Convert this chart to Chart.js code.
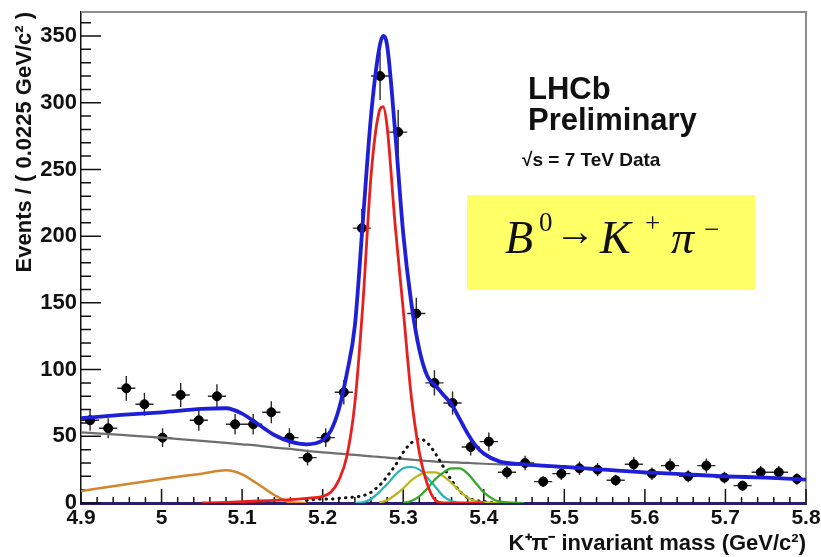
<!DOCTYPE html>
<html lang="en">
<head>
    <meta charset="UTF-8">
    <title>B0 to K+ pi- invariant mass - LHCb Preliminary</title>
    <script src="https://cdn.jsdelivr.net/npm/chart.js"></script>
    <style>
        html, body { margin: 0; padding: 0; background: #fff; }
        .chart-wrap { width: 821px; height: 557px; position: relative; }
    </style>
</head>
<body>
    <div class="chart-wrap">
        <canvas id="massChart"></canvas>
    </div>

    <script>
        // Data points: bin centres (GeV/c^2) and events per 0.0225 GeV/c^2 bin
        const binWidth = 0.0225;
        const binCenters = [
            4.91125, 4.93375, 4.95625, 4.97875, 5.00125, 5.02375, 5.04625, 5.06875, 5.09125, 5.11375,
            5.13625, 5.15875, 5.18125, 5.20375, 5.22625, 5.24875, 5.27125, 5.29375, 5.31625, 5.33875,
            5.36125, 5.38375, 5.40625, 5.42875, 5.45125, 5.47375, 5.49625, 5.51875, 5.54125, 5.56375,
            5.58625, 5.60875, 5.63125, 5.65375, 5.67625, 5.69875, 5.72125, 5.74375, 5.76625, 5.78875
        ];
        const binCounts = [
            62, 56, 86, 74, 49, 81, 62, 80, 59, 59,
            68, 49, 34, 49, 83, 206, 320, 278, 142, 90,
            75, 42, 46, 23, 30, 16, 22, 26, 25, 17,
            29, 22, 28, 20, 28, 19, 13, 23, 23, 18
        ];

        const curveMass = [
            4.90, 4.95, 5.00, 5.05, 5.08, 5.10, 5.12, 5.14, 5.16, 5.18,
            5.20, 5.21, 5.22, 5.23, 5.24, 5.25, 5.26, 5.27, 5.275, 5.28,
            5.29, 5.30, 5.31, 5.32, 5.33, 5.34, 5.35, 5.36, 5.37, 5.38,
            5.39, 5.40, 5.42, 5.45, 5.50, 5.55, 5.60, 5.65, 5.70, 5.75, 5.80
        ];
        const totalFit = [
            63.5, 66, 68, 70.5, 71, 67, 59, 51, 46, 44,
            47, 54, 70, 97, 133, 212, 290, 340, 350, 343,
            278, 202, 150, 115, 95, 88, 81, 74, 63, 52,
            43, 37, 31, 29, 27, 25, 23, 21.5, 20, 19, 17.5
        ];
        const signalFit = [
            null, null, null, 0, 0.5, 1, 1.5, 2, 2.5, 3.5,
            5, 8, 17, 35, 75, 150, 245, 293, 297, 282,
            208, 145, 80, 38, 14, 2, 0, 0, 0, 0,
            0, 0, null, null, null, null, null, null, null, null, null
        ];
        const combinatorialFit = [
            53, 51, 49, 46.5, 45, 44, 43, 41.5, 40.5, 39,
            38, 37.5, 37, 36.5, 36, 35.5, 35, 34.5, 34.3, 34,
            33.5, 33, 32.5, 32, 31.5, 31, 30.8, 30.5, 30.2, 30,
            29.7, 29.4, 29, 28.5, 26.5, 25, 23, 21.5, 20, 19, 17.5
        ];
        const partRecoFit = [
            9, 13.5, 18, 22, 24.5, 21.5, 14, 6, 0.5, 0,
            null, null, null, null, null, null, null, null, null, null,
            null, null, null, null, null, null, null, null, null, null,
            null, null, null, null, null, null, null, null, null, null, null
        ];
        const dottedFit = [
            null, null, null, null, null, null, null, null, null, 2,
            3, 3, 3.5, 4, 4.5, 5.5, 8, 13, 16, 20,
            28, 38, 45, 48, 45, 37, 27, 17, 9, 4,
            2, 1, 0, null, null, null, null, null, null, null, null
        ];
        const cyanFit = [
            null, null, null, null, null, null, null, null, null, null,
            null, null, null, null, 0, 0.5, 3, 8, 11, 14,
            21, 26, 27, 25, 19, 12, 5, 1.5, 0, 0,
            null, null, null, null, null, null, null, null, null, null, null
        ];
        const yellowFit = [
            null, null, null, null, null, null, null, null, null, null,
            null, null, null, null, null, null, null, 0.5, 1, 2,
            6, 11, 17, 21, 23, 23, 20, 15, 9, 4,
            1.5, 0.5, 0, null, null, null, null, null, null, null, null
        ];
        const greenFit = [
            null, null, null, null, null, null, null, null, null, null,
            null, null, null, null, null, null, null, null, null, null,
            null, 0, 1.5, 5, 11, 18, 23, 26, 26, 22,
            15, 8, 1, 0, null, null, null, null, null, null, null
        ];

        // Axis ticks
        const xTickValues = [4.9, 5.0, 5.1, 5.2, 5.3, 5.4, 5.5, 5.6, 5.7, 5.8];
        const yTickValues = [0, 50, 100, 150, 200, 250, 300, 350];

        const toPoints = values => curveMass
            .map((m, i) => ({ x: m, y: values[i] }))
            .filter(p => p.y !== null);

        function curve(values, color, width, order, dash) {
            return {
                type: 'line',
                data: toPoints(values),
                borderColor: color,
                borderWidth: width,
                borderDash: dash || [],
                borderCapStyle: dash ? 'round' : 'butt',
                pointRadius: 0,
                cubicInterpolationMode: 'monotone',
                fill: false,
                order: order
            };
        }

        // error bars under everything, inward ROOT-style ticks and frame
        const errorBars = {
            id: 'errorBars',
            beforeDatasetsDraw(chart) {
                const { ctx, scales: { x, y } } = chart;
                ctx.save();
                ctx.strokeStyle = '#2a2a2a';
                ctx.lineWidth = 1.4;
                ctx.beginPath();
                binCenters.forEach((m, i) => {
                    const n = binCounts[i];
                    const err = Math.sqrt(n);
                    const px = x.getPixelForValue(m);
                    const py = y.getPixelForValue(n);
                    ctx.moveTo(x.getPixelForValue(m - binWidth / 2), py);
                    ctx.lineTo(x.getPixelForValue(m + binWidth / 2), py);
                    ctx.moveTo(px, y.getPixelForValue(n + err));
                    ctx.lineTo(px, y.getPixelForValue(n - err));
                });
                ctx.stroke();
                ctx.restore();
            }
        };

        const frameTicks = {
            id: 'frameTicks',
            beforeDatasetsDraw(chart) {
                const { ctx, chartArea: a, scales: { x, y } } = chart;
                ctx.save();
                ctx.strokeStyle = '#8c8c8c';
                ctx.lineWidth = 2;
                ctx.beginPath();
                ctx.moveTo(a.left, a.top);
                ctx.lineTo(a.right, a.top);
                ctx.lineTo(a.right, a.bottom);
                ctx.stroke();

                ctx.strokeStyle = '#111';
                ctx.lineWidth = 1.5;
                ctx.beginPath();
                for (let v = 0; v <= 360; v += 10) {
                    const py = y.getPixelForValue(v);
                    const len = v % 50 === 0 ? 20 : 10;
                    ctx.moveTo(a.left, py);
                    ctx.lineTo(a.left + len, py);
                }
                for (let k = 0; k <= 45; k++) {
                    const v = 4.9 + k * 0.02;
                    const px = x.getPixelForValue(v);
                    const len = k % 5 === 0 ? 14 : 6;
                    ctx.moveTo(px, a.bottom);
                    ctx.lineTo(px, a.bottom - len);
                }
                ctx.stroke();
                ctx.restore();
            }
        };

        const labels = {
            id: 'labels',
            afterDraw(chart) {
                const ctx = chart.ctx;
                ctx.save();
                ctx.fillStyle = '#111';
                ctx.textBaseline = 'alphabetic';
                ctx.textAlign = 'left';
                ctx.font = 'bold 31px "Liberation Sans", Arial, sans-serif';
                ctx.fillText('LHCb', 528, 99);
                ctx.fillText('Preliminary', 528, 130);
                ctx.font = 'bold 19px "Liberation Sans", Arial, sans-serif';
                ctx.fillText('\u221As = 7 TeV Data', 522, 166);

                // decay label box
                ctx.fillStyle = '#ffff66';
                ctx.fillRect(467, 195, 288, 95);
                ctx.fillStyle = '#111';
                ctx.font = 'italic 46px "Liberation Serif", "Times New Roman", serif';
                ctx.fillText('B', 505, 253);
                ctx.fillText('K', 600, 253);
                ctx.fillText('\u03C0', 671, 253);
                ctx.font = '27px "Liberation Serif", "Times New Roman", serif';
                ctx.fillText('0', 539, 231);
                ctx.fillText('+', 645, 232);
                ctx.fillText('\u2212', 704, 238);
                ctx.font = '40px "Liberation Serif", "Times New Roman", serif';
                ctx.textBaseline = 'middle';
                ctx.fillText('\u2192', 555, 234);
                ctx.restore();
            }
        };

        const tickFont = size => ({ family: '"Liberation Sans", Arial, sans-serif', size: size, weight: 'bold' });

        new Chart(document.getElementById('massChart'), {
            type: 'scatter',
            data: {
                datasets: [
                    {
                        type: 'scatter',
                        data: binCenters.map((m, i) => ({ x: m, y: binCounts[i] })),
                        backgroundColor: '#000',
                        borderColor: '#000',
                        pointRadius: 4.5,
                        showLine: false,
                        order: 9
                    },
                    curve(partRecoFit, '#d2862e', 2.5, 8),
                    curve(combinatorialFit, '#6e6e6e', 2.2, 7),
                    curve(dottedFit, '#111', 3, 6, [0.5, 6]),
                    curve(cyanFit, '#23b5b5', 2.2, 5),
                    curve(yellowFit, '#bdb51a', 2.2, 4),
                    curve(greenFit, '#35a828', 2.2, 3),
                    curve(signalFit, '#e8201d', 2.8, 2),
                    curve(totalFit, '#1f1fd8', 3.8, 1)
                ]
            },
            options: {
                responsive: true,
                maintainAspectRatio: false,
                animation: false,
                layout: { padding: { top: 12, right: 15, left: 0, bottom: 0 } },
                plugins: {
                    legend: { display: false },
                    tooltip: { enabled: false }
                },
                scales: {
                    x: {
                        type: 'linear',
                        min: 4.9,
                        max: 5.8,
                        grid: { display: false, drawTicks: false },
                        border: { color: '#2a1f6e', width: 3 },
                        afterBuildTicks: s => { s.ticks = xTickValues.map(v => ({ value: v })); },
                        afterFit: s => {
                            s.height = 54;
                            s.paddingLeft = 0; s.paddingRight = 0;
                        },
                        ticks: {
                            autoSkip: false,
                            maxRotation: 0,
                            padding: 3,
                            color: '#111',
                            font: tickFont(21),
                            callback: v => String(Number(v.toFixed(1)))
                        },
                        title: {
                            display: true,
                            text: 'K\u207A\u03C0\u207B invariant mass (GeV/c\u00B2)',
                            align: 'end',
                            color: '#111',
                            font: tickFont(22),
                            padding: { top: 1, bottom: 0 }
                        }
                    },
                    y: {
                        type: 'linear',
                        min: 0,
                        max: 368,
                        grid: { display: false, drawTicks: false },
                        border: { color: '#111', width: 1.5 },
                        afterBuildTicks: s => { s.ticks = yTickValues.map(v => ({ value: v })); },
                        afterFit: s => {
                            s.width = 81;
                            s.paddingTop = 0; s.paddingBottom = 0;
                        },
                        ticks: {
                            padding: 4,
                            color: '#111',
                            font: tickFont(22)
                        },
                        title: {
                            display: true,
                            text: 'Events / ( 0.0225 GeV/c\u00B2 )',
                            align: 'end',
                            color: '#111',
                            font: tickFont(22),
                            padding: { top: 12, bottom: 0 }
                        }
                    }
                }
            },
            plugins: [errorBars, frameTicks, labels]
        });
    </script>
</body>
</html>
